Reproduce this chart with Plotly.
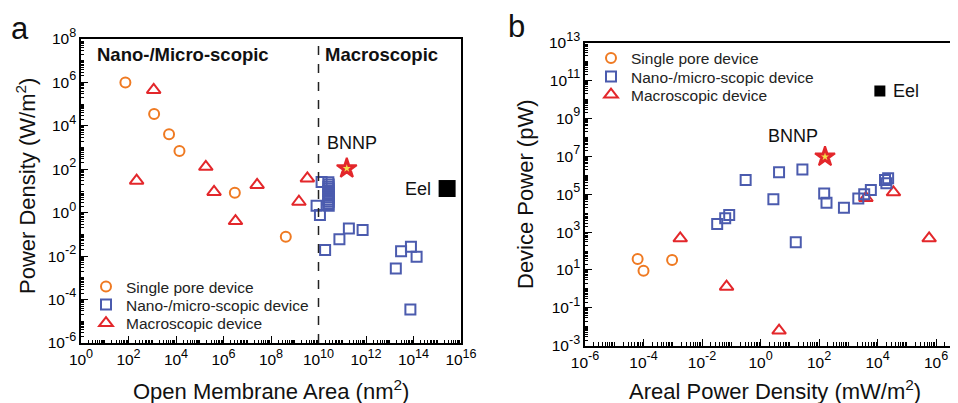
import math
import plotly.graph_objects as go

# ---------------- Panel a: Power density vs open membrane area ----------------
a_single_x = [74, 1.2e3, 5.1e3, 1.4e4, 3.0e6, 4.2e8]
a_single_y = [1.0e6, 3.5e4, 4.1e3, 6.9e2, 8.3, 7.8e-2]

a_nano_x = [1.35e10, 8.3e9, 1.15e10, 1.9e10, 7.6e10, 1.9e11, 7.2e11,
            1.8e13, 3.0e13, 7.8e13, 1.35e14, 7.4e13,
            2.6e10, 2.7e10, 2.6e10, 2.7e10, 2.6e10, 2.7e10,
            2.6e10, 2.7e10, 2.6e10, 2.7e10, 2.6e10, 2.7e10]
a_nano_y = [26, 2.1, 0.78, 1.9e-2, 6.0e-2, 0.19, 0.16,
            2.7e-3, 1.7e-2, 2.7e-2, 9.3e-3, 3.5e-5,
            25, 20, 15.8, 12.6, 10, 7.9,
            6.3, 5.0, 4.0, 3.2, 2.5, 2.1]

a_macro_x = [1.15e3, 2.2e2, 1.8e5, 4.0e5, 2.6e7, 3.4e9, 1.5e9, 3.2e6]
a_macro_y = [4.5e5, 30, 1.3e2, 9.1, 19, 38, 3.2, 0.41]

a_bnnp_x, a_bnnp_y = [1.55e11], [110]
a_eel_x, a_eel_y = [2.6e15], [13]
a_boundary_area = 1e10

a_xtick_exps = [0, 2, 4, 6, 8, 10, 12, 14, 16]
a_ytick_exps = [-6, -4, -2, 0, 2, 4, 6, 8]

# ---------------- Panel b: Device power vs areal power density ----------------
b_single_x = [6.3e-5, 1.0e-4, 9.5e-4]
b_single_y = [38, 9.1, 34]

b_nano_x = [3.3e-2, 6.2e-2, 8.5e-2, 0.31, 4.3, 27, 2.75, 16, 1.5e2, 1.8e2,
            7.1e2, 2.2e3, 3.5e3, 5.9e3, 1.8e4, 2.3e4, 2.0e4]
b_nano_y = [2.7e3, 5.4e3, 7.9e3, 5.6e5, 1.45e6, 2.0e6, 5.4e4, 2.9e2, 1.1e5, 3.5e4,
            1.95e4, 6.0e4, 1.0e5, 1.66e5, 5.6e5, 6.9e5, 3.8e5]

b_macro_x = [1.8e-3, 6.9e-2, 4.3, 3.5e4, 5.8e5, 4.0e3]
b_macro_y = [4.7e2, 1.3, 6.3e-3, 1.26e5, 4.7e2, 6.3e4]

b_bnnp_x, b_bnnp_y = [1.6e2], [9.5e6]
b_eel_x, b_eel_y = [1.2e4], [2.8e10]

b_xtick_exps = [-6, -4, -2, 0, 2, 4, 6]
b_ytick_exps = [-3, -1, 1, 3, 5, 7, 9, 11, 13]

# ---------------- Styling ----------------
FONT = "Liberation Sans, Arial, sans-serif"
ORANGE = "#EF7A22"
BLUE = "#4B5BAE"
RED = "#E3272B"
NAMES = ["Single pore device", "Nano-/micro-scopic device", "Macroscopic device"]

# page has an 8px body margin; figure is sized to fill the rest of the 958x403 window
OFF = 8
W, H = 958 - OFF, 403 - OFF


def px(x):
    return (x - OFF) / W


def py(y):
    return 1 - (y - OFF) / H


def tick_text(exps):
    return ["10<span style='font-size:18px'><sup>%d</sup></span>" % e for e in exps]


def tick_vals(exps):
    return [10.0 ** e for e in exps]


fig = go.Figure()


def add_panel(xa, ya, legends, sx, sy, nx, ny, mx, my, bx, by, ex, ey, eel_size):
    # macroscopic first so squares overlay it
    fig.add_trace(go.Scatter(x=mx, y=my, mode="markers", name=NAMES[2],
                             xaxis=xa, yaxis=ya, legend=legends[2],
                             marker=dict(symbol="triangle-up-open", size=12, color=RED,
                                         line=dict(width=2, color=RED))))
    fig.add_trace(go.Scatter(x=sx, y=sy, mode="markers", name=NAMES[0],
                             xaxis=xa, yaxis=ya, legend=legends[0],
                             marker=dict(symbol="circle-open", size=10, color=ORANGE,
                                         line=dict(width=2, color=ORANGE))))
    fig.add_trace(go.Scatter(x=nx, y=ny, mode="markers", name=NAMES[1],
                             xaxis=xa, yaxis=ya, legend=legends[1],
                             marker=dict(symbol="square-open", size=10, color=BLUE,
                                         line=dict(width=2, color=BLUE))))
    fig.add_trace(go.Scatter(x=bx, y=by, mode="markers", showlegend=False,
                             xaxis=xa, yaxis=ya,
                             marker=dict(symbol="star", size=15, color=RED,
                                         line=dict(width=2, color=RED))))
    fig.add_trace(go.Scatter(x=bx, y=by, mode="markers", showlegend=False,
                             xaxis=xa, yaxis=ya,
                             marker=dict(symbol="star", size=6, color="#F2E04A",
                                         line=dict(width=0))))
    fig.add_trace(go.Scatter(x=ex, y=ey, mode="markers", showlegend=False,
                             xaxis=xa, yaxis=ya,
                             marker=dict(symbol="square", size=eel_size, color="black",
                                         line=dict(width=0))))


add_panel("x", "y", ["legend", "legend2", "legend3"], a_single_x, a_single_y,
          a_nano_x, a_nano_y, a_macro_x, a_macro_y, a_bnnp_x, a_bnnp_y,
          a_eel_x, a_eel_y, 17)
add_panel("x2", "y2", ["legend4", "legend5", "legend6"], b_single_x, b_single_y,
          b_nano_x, b_nano_y, b_macro_x, b_macro_y, b_bnnp_x, b_bnnp_y,
          b_eel_x, b_eel_y, 11)

axis_common = dict(type="log", showgrid=False, zeroline=False, showline=True,
                   automargin=False,
                   linecolor="black", linewidth=1.5, ticks="inside", ticklen=7,
                   tickwidth=1.3, tickcolor="black",
                   tickfont=dict(family=FONT, size=15.5, color="black"),
                   minor=dict(ticks="inside", ticklen=3.5, tickwidth=1, tickcolor="black",
                              dtick="D1", showgrid=False),
                   tickmode="array")


def legend_at(xm, ym):
    return dict(x=px(xm - 20), y=py(ym), xanchor="left", yanchor="middle",
                bgcolor="rgba(0,0,0,0)", borderwidth=0,
                font=dict(family=FONT, size=15.5, color="#222"), itemwidth=30)


fig.update_layout(
    width=W, height=H, autosize=False,
    margin=dict(l=0, r=0, t=0, b=0, autoexpand=False),
    paper_bgcolor="white", plot_bgcolor="white",
    font=dict(family=FONT, color="black"),
    xaxis=dict(axis_common, domain=[px(81), px(461)], range=[0, 16], anchor="y",
               mirror=True, ticklabelstandoff=2,
               tickvals=tick_vals(a_xtick_exps), ticktext=tick_text(a_xtick_exps)),
    yaxis=dict(axis_common, domain=[py(343), py(39)], range=[-6, 8], anchor="x",
               mirror=True, tickvals=tick_vals(a_ytick_exps), ticktext=tick_text(a_ytick_exps)),
    xaxis2=dict(axis_common, domain=[px(585), 1.0], range=[-6, 6.75], anchor="y2",
                mirror=True, ticklabelstandoff=2,
                tickvals=tick_vals(b_xtick_exps), ticktext=tick_text(b_xtick_exps)),
    yaxis2=dict(axis_common, domain=[py(345.7), py(42.7)], range=[-3, 13], anchor="x2",
                mirror=False, tickvals=tick_vals(b_ytick_exps), ticktext=tick_text(b_ytick_exps)),
    legend=legend_at(106, 287),
    legend2=legend_at(106, 305),
    legend3=legend_at(106, 323.5),
    legend4=legend_at(611, 58.5),
    legend5=legend_at(611, 77),
    legend6=legend_at(611, 95),
    showlegend=True,
)

# dashed boundary line in panel a
fig.add_shape(type="line", xref="x", yref="y domain", x0=a_boundary_area, x1=a_boundary_area,
              y0=0, y1=1, line=dict(color="#222", width=1.5, dash="dash"))

TXT = dict(family=FONT, color="#111")


def note(text, x, y, xref="paper", yref="paper", xanchor="center", size=18, **kw):
    d = dict(text=text, x=x, y=y, xref=xref, yref=yref, xanchor=xanchor,
             yanchor="middle", showarrow=False, font=dict(TXT, size=size))
    d.update(kw)
    return d


ann = [
    note("a", px(19.5), py(28), size=31),
    note("b", px(516), py(26), size=31),
    note("<b>Nano-/Micro-scopic</b>", px(95), py(55), xanchor="left", size=18.5),
    note("<b>Macroscopic</b>", px(323), py(55), xanchor="left", size=18.5),
    note("BNNP", math.log10(a_bnnp_x[0]), math.log10(a_bnnp_y[0]), "x", "y",
         xshift=5, yshift=25),
    note("Eel", math.log10(a_eel_x[0]), math.log10(a_eel_y[0]), "x", "y",
         xanchor="right", xshift=-14),
    note("BNNP", math.log10(b_bnnp_x[0]), math.log10(b_bnnp_y[0]), "x2", "y2",
         xshift=-32, yshift=21),
    note("Eel", math.log10(b_eel_x[0]), math.log10(b_eel_y[0]), "x2", "y2",
         xanchor="left", xshift=11),
    note("Power Density (W/m<sup>2</sup>)", px(26), py(186), size=22, textangle=-90),
    note("Open Membrane Area (nm<sup>2</sup>)", px(271), py(390), size=22),
    note("Device Power (pW)", px(525), py(195), size=22, textangle=-90),
    note("Areal Power Density (mW/m<sup>2</sup>)", px(775), py(390), size=22),
]
fig.update_layout(annotations=ann)

fig.write_html("out.html")
